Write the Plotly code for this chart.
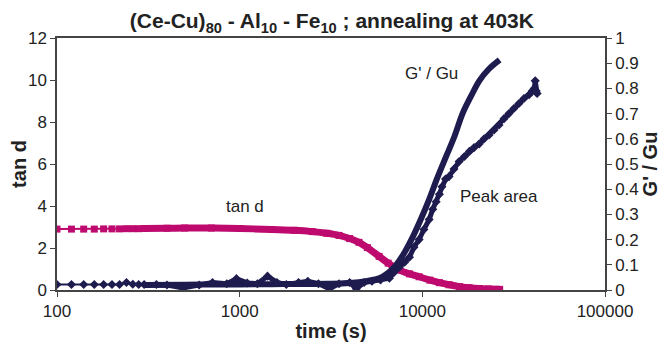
import plotly.graph_objects as go

# ---- data ----
tand_t = [100, 120, 140, 160, 180, 200, 220, 240, 260, 280, 300, 400, 500, 700, 1000,
          1500, 2000, 2500, 3000, 3500, 4000, 4500, 5000, 5800, 6500, 7500, 8500, 9600,
          11000, 12400, 14000, 16000, 18000, 20500, 23000, 26500]
tand_v = [2.90, 2.90, 2.90, 2.90, 2.91, 2.91, 2.91, 2.92, 2.92, 2.92, 2.93, 2.94, 2.95, 2.95, 2.93,
          2.88, 2.84, 2.78, 2.70, 2.60, 2.45, 2.27, 2.02, 1.60, 1.28, 0.95, 0.77, 0.63,
          0.47, 0.35, 0.25, 0.16, 0.11, 0.07, 0.05, 0.03]

g_t = [100, 120, 140, 160, 180, 200, 220, 240, 260, 280, 300, 500, 700, 1000, 1500, 2000,
       3000, 4000, 5000, 5800, 6500, 7200, 8000, 8850, 9800, 10900, 12000, 13500, 15000,
       16600, 18500, 20500, 23000, 26500]
g_v = [0.02, 0.02, 0.02, 0.02, 0.02, 0.02, 0.02, 0.02, 0.02, 0.02, 0.02, 0.021, 0.022, 0.022,
       0.023, 0.024, 0.025, 0.028, 0.036, 0.046, 0.068, 0.10, 0.15, 0.21, 0.28, 0.36, 0.44,
       0.53, 0.61, 0.70, 0.77, 0.83, 0.875, 0.913]

p_t = [100, 120, 140, 160, 180, 200, 220, 240, 260, 280, 300, 350, 400, 490, 600, 710, 850,
       960, 1100, 1250, 1420, 1600, 1800, 2100, 2360, 2700, 3100, 3500, 4000, 4350, 4800,
       5300, 5900, 6600, 7000, 7480, 8000, 8500, 9000, 9600, 10200, 10900, 11400, 11900,
       12400, 12800, 13400, 14000, 14900, 15900, 17000, 18100, 19200, 20500, 21800, 23200,
       24700, 26300, 28000, 29800, 31700, 33800, 36000, 38400, 40000, 41000, 41500, 42000,
       42500]
p_v = [0.022, 0.022, 0.022, 0.022, 0.022, 0.022, 0.022, 0.030, 0.023, 0.022, 0.022, 0.022,
       0.020, 0.008, 0.020, 0.030, 0.025, 0.045, 0.028, 0.025, 0.055, 0.030, 0.022, 0.030,
       0.035, 0.025, 0.005, 0.025, 0.030, 0.005, 0.030, 0.035, 0.040, 0.047, 0.070, 0.090,
       0.110, 0.130, 0.170, 0.200, 0.240, 0.280, 0.320, 0.350, 0.380, 0.410, 0.440, 0.450,
       0.480, 0.510, 0.530, 0.550, 0.565, 0.580, 0.600, 0.615, 0.635, 0.655, 0.680, 0.700,
       0.720, 0.740, 0.760, 0.775, 0.790, 0.800, 0.830, 0.790, 0.780]

x_ticks = [100, 1000, 10000, 100000]
x_labels = ["100", "1000", "10000", "100000"]
left_ticks = [0, 2, 4, 6, 8, 10, 12]
right_ticks = [0, 0.1, 0.2, 0.3, 0.4, 0.5, 0.6, 0.7, 0.8, 0.9, 1]
right_labels = ["0", "0.1", "0.2", "0.3", "0.4", "0.5", "0.6", "0.7", "0.8", "0.9", "1"]

MAG = "#BE0A6E"
NAVY = "#1E1B4F"
FONT = "Liberation Sans, Arial, sans-serif"
AX = "#444"

fig = go.Figure()

n0 = 10
fig.add_trace(go.Scatter(x=tand_t[n0:], y=tand_v[n0:], mode="lines",
                         line=dict(color=MAG, width=7, shape="spline"), yaxis="y",
                         showlegend=False))
fig.add_trace(go.Scatter(x=tand_t, y=tand_v, mode="lines+markers",
                         line=dict(color=MAG, width=2),
                         marker=dict(symbol="square", size=7, color=MAG), yaxis="y",
                         showlegend=False))

fig.add_trace(go.Scatter(x=g_t[n0:], y=g_v[n0:], mode="lines",
                         line=dict(color=NAVY, width=6, shape="spline"), yaxis="y2",
                         showlegend=False))
fig.add_trace(go.Scatter(x=p_t[n0:], y=p_v[n0:], mode="lines",
                         line=dict(color=NAVY, width=5), yaxis="y2", showlegend=False))
fig.add_trace(go.Scatter(x=p_t, y=p_v, mode="lines+markers",
                         line=dict(color=NAVY, width=2),
                         marker=dict(symbol="diamond", size=7, color=NAVY), yaxis="y2",
                         showlegend=False))

title_font = dict(family=FONT, size=20, color="#222", weight="bold")

# page body has an 8px margin, so the figure is sized/offset to compensate
fig.update_layout(
    width=661, height=336,
    margin=dict(l=49, r=64, t=30, b=54),
    paper_bgcolor="white", plot_bgcolor="white",
    font=dict(family=FONT, size=17, color="#222"),
    title=dict(text="(Ce-Cu)<sub>80</sub> - Al<sub>10</sub> - Fe<sub>10</sub> ; annealing at 403K",
               x=0.49, xanchor="center", y=0.962, yanchor="middle",
               font=dict(family=FONT, size=21, color="#222", weight="bold")),
    xaxis=dict(type="log", range=[2, 5], tickvals=x_ticks, ticktext=x_labels,
               showline=True, linecolor=AX, linewidth=1.5, mirror=True, automargin=False,
               ticks="outside", ticklen=5, tickcolor=AX, showgrid=False, zeroline=False,
               title=dict(text="time (s)", standoff=4, font=title_font)),
    yaxis=dict(range=[0, 12], tickvals=left_ticks, showline=True, linecolor=AX,
               linewidth=1.5, ticks="outside", ticklen=5, tickcolor=AX, showgrid=False,
               zeroline=False, automargin=False,
               title=dict(text="tan d", standoff=4, font=title_font)),
    yaxis2=dict(range=[0, 1], overlaying="y", side="right", tickvals=right_ticks,
                ticktext=right_labels, showline=True, linecolor=AX, linewidth=1.5,
                ticks="outside", ticklen=5, tickcolor=AX, showgrid=False, zeroline=False,
                automargin=False,
                title=dict(text="G' / Gu", standoff=4, font=title_font)),
    annotations=[
        dict(x=3.027, y=4.0, xref="x", yref="y", text="tan d", showarrow=False,
             font=dict(family=FONT, size=17, color="#222")),
        dict(x=4.05, y=0.86, xref="x", yref="y2", text="G' / Gu", showarrow=False,
             font=dict(family=FONT, size=17, color="#222")),
        dict(x=4.42, y=0.37, xref="x", yref="y2", text="Peak area", showarrow=False,
             font=dict(family=FONT, size=17, color="#222")),
    ],
)

fig.write_html("out.html")
